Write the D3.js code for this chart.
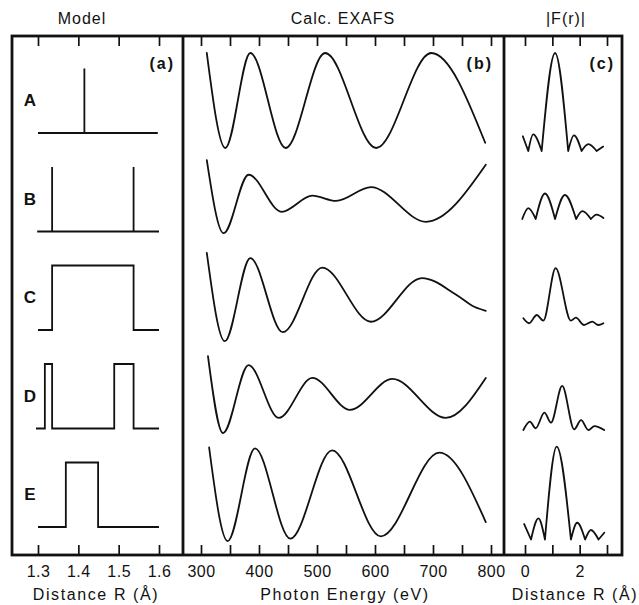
<!DOCTYPE html>
<html><head><meta charset="utf-8">
<script src="https://cdn.jsdelivr.net/npm/d3@7"></script>
<style>
body{margin:0;background:#fff}
text{font-family:"Liberation Sans",Arial,Helvetica,sans-serif;fill:#111}
</style>
</head><body>
<svg id="chart" width="639" height="605"></svg>
<script>
// ---------------- DATA ----------------
const rows = ["A","B","C","D","E"];
const panelTitles = ["Model","Calc. EXAFS","|F(r)|"];
const panelTags = ["(a)","(b)","(c)"];
const axisTitles = ["Distance R (Å)","Photon Energy (eV)","Distance R (Å)"];

// (a) model distance distributions: [R (Å), relative weight]
const modelA = [[1.3,0],[1.415,0],[1.415,1],[1.415,0],[1.597,0]];
const modelB = [[1.298,0],[1.335,0],[1.335,1],[1.335,0],[1.537,0],[1.537,1],[1.537,0],[1.6,0]];
const modelC = [[1.3,0],[1.335,0],[1.335,1],[1.537,1],[1.537,0],[1.6,0]];
const modelD = [[1.295,0],[1.317,0],[1.317,1],[1.335,1],[1.335,0],[1.489,0],[1.489,1],[1.537,1],[1.537,0],[1.6,0]];
const modelE = [[1.3,0],[1.369,0],[1.369,1],[1.449,1],[1.449,0],[1.6,0]];

// (b) calculated EXAFS: [photon energy (eV), chi (arb.)]
const exafsA = [[310,1.0],[342,-1.0],[385,1.0],[446,-1.0],[514,1.0],[602,-1.0],[697,1.0],[790,-0.89]];
const exafsB = [[310,0.82],[339,-0.72],[382,0.51],[439,-0.27],[492,0.07],[533,-0.04],[593,0.25],[688,-0.48],[791,0.72]];
const exafsC = [[310,0.94],[341,-0.92],[385,0.83],[441,-0.73],[509,0.63],[593,-0.51],[681,0.41],[740,0.06],[772,-0.20],[791,-0.28]];
const exafsD = [[312,0.84],[338,-0.78],[382,0.65],[434,-0.46],[492,0.38],[557,-0.29],[630,0.36],[722,-0.46],[791,0.38]];
const exafsE = [[314,0.99],[346,-0.98],[393,0.97],[454,-0.93],[526,0.93],[610,-0.88],[711,0.88],[791,-0.58]];

// (c) Fourier transform magnitude: [r (Å), |F(r)| (arb.)]
const ftA = [[-0.08,0.15],[0.12,0],[0.30,0.17],[0.61,0],[1.10,1.0],[1.58,0],[1.79,0.16],[2.07,0],[2.32,0.07],[2.62,0],[2.86,0.045]];
const ftB = [[-0.10,0],[0.12,0.11],[0.39,0],[0.73,0.26],[1.10,0],[1.46,0.245],[1.87,0],[2.10,0.08],[2.41,0],[2.62,0.045],[2.87,0.01]];
const ftC = [[-0.06,0.079],[0.15,0.028],[0.43,0.112],[0.67,0.054],[1.12,0.59],[1.68,0.054],[1.86,0.085],[2.16,0.01],[2.46,0.044],[2.68,0.01],[2.87,0.028]];
const ftD = [[-0.06,0.01],[0.18,0.095],[0.39,0.028],[0.71,0.187],[0.95,0.085],[1.36,0.46],[1.80,0.017],[2.05,0.11],[2.32,0.01],[2.54,0.05],[2.90,0.01]];
const ftE = [[-0.03,0.158],[0.22,0],[0.49,0.216],[0.73,0],[1.16,0.947],[1.68,0],[1.91,0.171],[2.20,0],[2.41,0.097],[2.69,0],[2.90,0.069]];

const modelTicks = [1.3,1.4,1.5,1.6];
const energyTicks = [300,350,400,450,500,550,600,650,700,750,800];
const energyLabels = [300,400,500,600,700,800];
const rTicks = [0,1,2,3];
const rLabels = [0,2];

const models = [modelA,modelB,modelC,modelD,modelE];
const exafs = [exafsA,exafsB,exafsC,exafsD,exafsE];
const fts = [ftA,ftB,ftC,ftD,ftE];

// ---------------- LAYOUT ----------------
const frame = {x0:12, y0:36, x1:622, y1:555};
const dividers = [183, 504];
const svg = d3.select("#chart");
const ink = "#111";

const xA = d3.scaleLinear().domain([1.3,1.6]).range([38,159]);
const xB = d3.scaleLinear().domain([300,800]).range([201,491]);
const xC = d3.scaleLinear().domain([0,3]).range([525,607]);

const rowY = d3.scalePoint().domain(rows).range([100.5,494.5]);   // row centres
const modelAmp = d3.scaleLinear().domain([0,1]).range([0,64.5]);
const chiAmp = d3.scaleLinear().domain([-1,1]).range([-47.5,47.5]);
const ftAmp = d3.scaleLinear().domain([0,1]).range([0,98]);
const ftBase = [151,219,326,431,539.5];

// frame
svg.append("rect").attr("x",frame.x0).attr("y",frame.y0)
  .attr("width",frame.x1-frame.x0).attr("height",frame.y1-frame.y0)
  .attr("fill","none").attr("stroke",ink).attr("stroke-width",2.8);
dividers.forEach(x=>svg.append("line").attr("x1",x).attr("x2",x)
  .attr("y1",frame.y0).attr("y2",frame.y1).attr("stroke",ink).attr("stroke-width",2.8));

// axes (ticks top and bottom)
function ticks(scale, values, labels){
  const bottom = d3.axisBottom(scale).tickValues(values).tickSize(-10).tickPadding(11)
    .tickFormat(d=>labels.includes(d)?String(d):"");
  const g = svg.append("g").attr("transform",`translate(0,${frame.y1})`).call(bottom);
  g.select(".domain").remove();
  g.selectAll("line").attr("stroke",ink).attr("stroke-width",1.7);
  g.selectAll("text").attr("font-size",16).attr("fill",ink).attr("dy","0.71em")
    .style("letter-spacing","0.5px").attr("font-family",null);
  const top = d3.axisTop(scale).tickValues(values).tickSize(-10).tickFormat("");
  const t = svg.append("g").attr("transform",`translate(0,${frame.y0})`).call(top);
  t.select(".domain").remove();
  t.selectAll("line").attr("stroke",ink).attr("stroke-width",1.7);
}
ticks(xA, modelTicks, modelTicks);
ticks(xB, energyTicks, energyLabels);
ticks(xC, rTicks, rLabels);

// titles
const centresTop = [82, 343, 566];
const centresBot = [96, 345, 575];
panelTitles.forEach((t,i)=>svg.append("text").attr("x",centresTop[i]).attr("y",24)
  .attr("text-anchor","middle").attr("font-size",16).style("letter-spacing","1px").text(t));
axisTitles.forEach((t,i)=>svg.append("text").attr("x",centresBot[i]).attr("y",600)
  .attr("text-anchor","middle").attr("font-size",16).style("letter-spacing","1.6px").text(t));
const tagX = [175, 493, 615];
panelTags.forEach((t,i)=>svg.append("text").attr("x",tagX[i]).attr("y",69)
  .attr("text-anchor","end").attr("font-size",16).attr("font-weight","bold")
  .style("letter-spacing","2px").text(t));

// row labels
rows.forEach(r=>svg.append("text").attr("x",30).attr("y",rowY(r)+5.5)
  .attr("text-anchor","middle").attr("font-size",17).attr("font-weight","bold").text(r));

// curves
const lineStyle = p=>p.attr("fill","none").attr("stroke",ink).attr("stroke-width",1.8)
  .attr("stroke-linejoin","round").attr("stroke-linecap","round");

models.forEach((m,i)=>{
  const base = rowY(rows[i]) + 32.5;
  const line = d3.line().x(d=>xA(d[0])).y(d=>base - modelAmp(d[1]));
  svg.append("path").attr("d",line(m)).call(lineStyle).attr("stroke-linecap","butt")
    .attr("stroke-linejoin","miter");
});

exafs.forEach((s,i)=>{
  const c = rowY(rows[i]);
  const line = d3.line().x(d=>xB(d[0])).y(d=>c - chiAmp(d[1])).curve(d3.curveMonotoneX);
  svg.append("path").attr("d",line(s)).call(lineStyle);
});

// |F(r)| : split into lobes at zeros so that minima stay as cusps
function lobes(data){
  const segs=[]; let cur=[data[0]];
  for(let k=1;k<data.length;k++){
    cur.push(data[k]);
    if(data[k][1]===0 && k<data.length-1){ segs.push(cur); cur=[data[k]]; }
  }
  segs.push(cur); return segs;
}
fts.forEach((s,i)=>{
  const b = ftBase[i];
  const line = d3.line().x(d=>xC(d[0])).y(d=>b - ftAmp(d[1])).curve(d3.curveMonotoneX);
  svg.append("path").attr("d",lobes(s).map(seg=>line(seg)).join("")).call(lineStyle);
});
</script>
</body></html>
